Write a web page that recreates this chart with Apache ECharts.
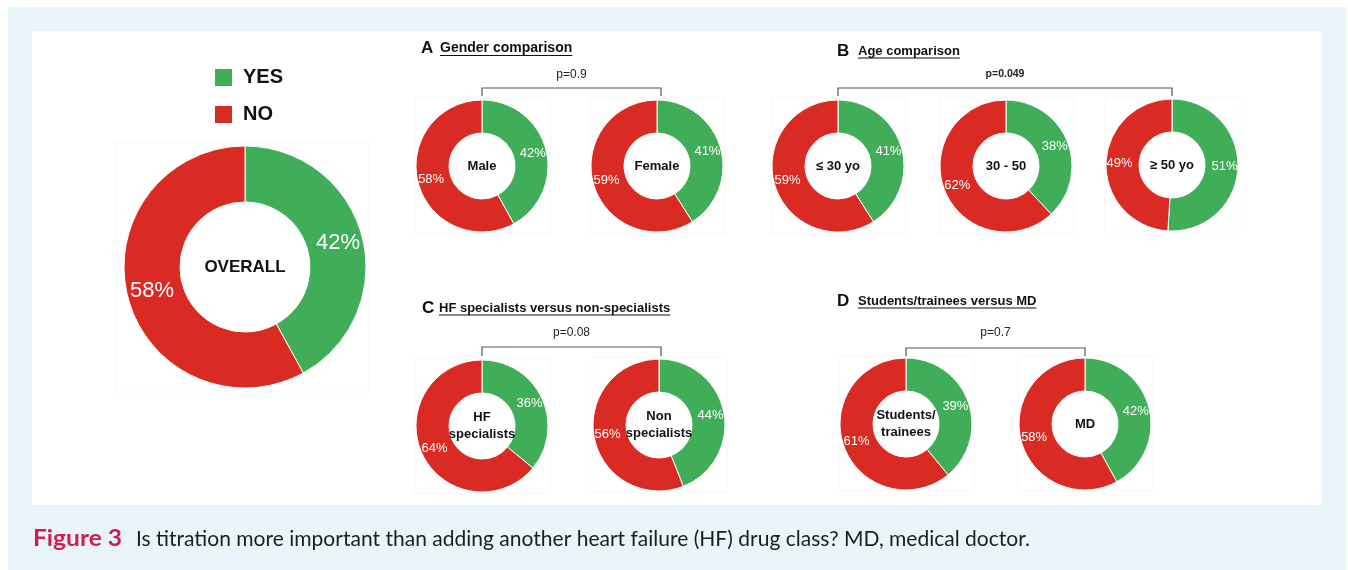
<!DOCTYPE html>
<html><head><meta charset="utf-8">
<script src="https://cdn.jsdelivr.net/npm/echarts@6/dist/echarts.min.js"></script>
<style>html,body{margin:0;padding:0;background:#fff}#c{width:1348px;height:570px}</style>
</head><body><div id="c"></div>
<script>
// ---------- DATA ----------
const answers = ['YES', 'NO'];
const groups = ['OVERALL', 'Male', 'Female', '≤ 30 yo', '30 - 50', '≥ 50 yo',
  'HF\nspecialists', 'Non\nspecialists', 'Students/\ntrainees', 'MD'];
const yesPct = [42, 42, 41, 41, 38, 51, 36, 44, 39, 42];
const noPct  = [58, 58, 59, 59, 62, 49, 64, 56, 61, 58];
const panelLetters = ['A', 'B', 'C', 'D'];
const panelTitles = ['Gender comparison', 'Age comparison',
  'HF specialists versus non-specialists', 'Students/trainees versus MD'];
const pValues = ['p=0.9', 'p=0.049', 'p=0.08', 'p=0.7'];
const captionLead = 'Figure 3';
const captionText = 'Is titration more important than adding another heart failure (HF) drug class? MD, medical doctor.';

// ---------- LAYOUT / STYLE ----------
const FONT = "'Liberation Sans', Arial, sans-serif";
const GREEN = '#40ae59', RED = '#d92a23';
const centers = [[245, 267], [482, 166], [657, 166], [838, 166], [1006, 166], [1172, 165],
  [482, 426], [659, 425], [906, 424], [1085, 424]];
const big = { r: [65, 121], fs: 22, cfs: 17, box: [-130, -125, 254, 250] };
const small = { r: [33, 66], fs: 13, cfs: 13, box: [-67, -68, 135, 135] };

const panels = [
  { lx: 421, tx: 440, ty: 48, tfs: 14, py: 75, pBold: false, pfs: 12, by: 88, bx: [482, 661], bd: 8 },
  { lx: 837, tx: 858, ty: 51, tfs: 13, py: 74, pBold: true, pfs: 10.5, by: 88, bx: [838, 1172], bd: 8 },
  { lx: 422, tx: 439, ty: 308, tfs: 13, py: 333, pBold: false, pfs: 12, by: 347, bx: [482, 661], bd: 9 },
  { lx: 837, tx: 858, ty: 301, tfs: 13, py: 333, pBold: false, pfs: 12, by: 348, bx: [906, 1085], bd: 8 }
];

const cv = document.createElement('canvas').getContext('2d');
function tw(text, font) { cv.font = font; return cv.measureText(text).width; }

const graphics = [];
// backgrounds
graphics.push({ type: 'rect', z: 0, silent: true, shape: { x: 8, y: 7, width: 1339, height: 563 }, style: { fill: '#e9f5f8' } });
graphics.push({ type: 'rect', z: 0, silent: true, shape: { x: 32, y: 31, width: 1290, height: 474 }, style: { fill: '#ffffff' } });

const series = [];
groups.forEach((g, i) => {
  const spec = i === 0 ? big : small;
  const [cx, cy] = centers[i];
  graphics.push({ type: 'rect', z: 1, silent: true,
    shape: { x: cx + spec.box[0], y: cy + spec.box[1], width: spec.box[2], height: spec.box[3] },
    style: { fill: 'none', stroke: '#f7f7f7', lineWidth: 1 } });
  series.push({
    type: 'pie', name: g.replace('\n', ' '), z: 5,
    center: [cx, cy], radius: spec.r, startAngle: 90, clockwise: true,
    avoidLabelOverlap: false, silent: true,
    itemStyle: { borderColor: '#ffffff', borderWidth: 1 },
    label: { show: true, position: 'inside', formatter: '{c}%', color: '#ffffff',
      fontSize: spec.fs, fontFamily: FONT, textBorderWidth: 0, textShadowBlur: 0 },
    labelLine: { show: false },
    emphasis: { disabled: true },
    data: [
      { name: answers[0], value: yesPct[i], itemStyle: { color: GREEN } },
      { name: answers[1], value: noPct[i], itemStyle: { color: RED } }
    ]
  });
  graphics.push({ type: 'text', z: 10, silent: true, x: cx, y: cy,
    style: { text: g, x: 0, y: 0, align: 'center', verticalAlign: 'middle',
      font: 'bold ' + spec.cfs + 'px ' + FONT, lineHeight: 16.5, fill: '#111' } });
});

panels.forEach((p, k) => {
  graphics.push({ type: 'text', z: 10, silent: true, x: p.lx, y: p.ty,
    style: { text: panelLetters[k], x: 0, y: 0, align: 'left', verticalAlign: 'middle',
      font: 'bold 17px ' + FONT, fill: '#111' } });
  const tf = 'bold ' + p.tfs + 'px ' + FONT;
  graphics.push({ type: 'text', z: 10, silent: true, x: p.tx, y: p.ty,
    style: { text: panelTitles[k], x: 0, y: 0, align: 'left', verticalAlign: 'middle', font: tf, fill: '#111' } });
  const w = tw(panelTitles[k], tf);
  const uy = p.ty + p.tfs * 0.5 + 0.5;
  graphics.push({ type: 'line', z: 10, silent: true,
    shape: { x1: p.tx, y1: uy, x2: p.tx + w, y2: uy }, style: { stroke: '#111', lineWidth: 1 } });
  graphics.push({ type: 'text', z: 10, silent: true, x: (p.bx[0] + p.bx[1]) / 2, y: p.py,
    style: { text: pValues[k], x: 0, y: 0, align: 'center', verticalAlign: 'middle',
      font: (p.pBold ? 'bold ' : '') + p.pfs + 'px ' + FONT, fill: '#222' } });
  graphics.push({ type: 'polyline', z: 10, silent: true,
    shape: { points: [[p.bx[0], p.by + p.bd], [p.bx[0], p.by], [p.bx[1], p.by], [p.bx[1], p.by + p.bd]] },
    style: { stroke: '#555', lineWidth: 1.2, fill: 'none' } });
});

// caption
const capFontLead = 'bold 22px Lato, sans-serif';
const capFont = '22px Lato, sans-serif';
const leadScale = 89 / tw(captionLead, capFontLead);
const bodyScale = 894 / tw(captionText, capFont);
graphics.push({ type: 'text', z: 10, silent: true, x: 33, y: 539, scaleX: leadScale,
  style: { text: captionLead, x: 0, y: 0, align: 'left', verticalAlign: 'middle', font: capFontLead, fill: '#d31c4d' } });
graphics.push({ type: 'text', z: 10, silent: true, x: 136, y: 539, scaleX: bodyScale,
  style: { text: captionText, x: 0, y: 0, align: 'left', verticalAlign: 'middle', font: capFont, fill: '#1d1d1d' } });

const chart = echarts.init(document.getElementById('c'), null, { renderer: 'canvas' });
chart.setOption({
  animation: false,
  backgroundColor: '#ffffff',
  legend: {
    data: answers, orient: 'vertical', left: 208, top: 62,
    itemWidth: 19, itemHeight: 19, itemGap: 16, icon: 'rect', selectedMode: false,
    textStyle: { fontSize: 20, fontWeight: 'bold', fontFamily: FONT, color: '#111', padding: [0, 0, 0, 5] }
  },
  graphic: graphics,
  series: series
});
</script></body></html>
